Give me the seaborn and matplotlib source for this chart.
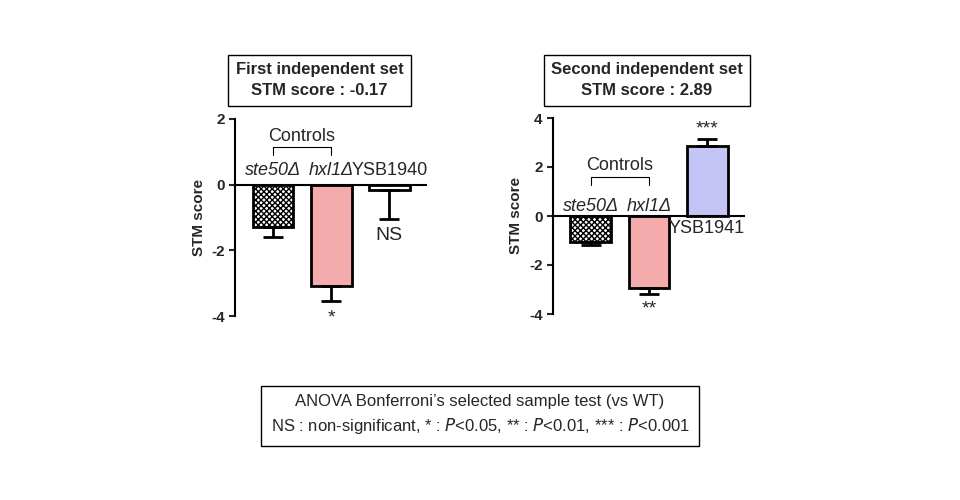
import matplotlib
matplotlib.use("Agg")
import matplotlib.pyplot as plt
import seaborn as sns
import pandas as pd

sns.set_style("white")
plt.rcParams["font.family"] = ["Liberation Sans", "DejaVu Sans"]

strains_1 = ["ste50Δ", "hxl1Δ", "YSB1940"]
scores_1 = [-1.3, -3.1, -0.15]
errors_1 = [0.3, 0.45, 0.9]
stars_1 = ["", "*", "NS"]

strains_2 = ["ste50Δ", "hxl1Δ", "YSB1941"]
scores_2 = [-1.05, -2.95, 2.85]
errors_2 = [0.15, 0.25, 0.3]
stars_2 = ["", "**", "***"]

fig = plt.figure(figsize=(9.6, 5), dpi=100)


def panel(rect, strains, scores, errors, stars, colors, ylim, ticks, title,
          title_pos, label_y, bracket_y, star_y, last_below):
    ax = fig.add_axes(rect)
    df = pd.DataFrame({"strain": strains, "score": scores})
    sns.barplot(data=df, x="strain", y="score", ax=ax, width=0.7,
                edgecolor="black", linewidth=2, palette=colors, hue="strain",
                legend=False)
    ax.patches[0].set_hatch("xxxxxx")
    for i, (s, e) in enumerate(zip(scores, errors)):
        yerr = [[e], [0]] if s < 0 else [[0], [e]]
        ax.errorbar(i, s, yerr=yerr, color="black", capsize=7, capthick=2,
                    elinewidth=2)
    ax.axhline(0, color="black", lw=1.5)
    ax.set_ylim(*ylim)
    ax.set_xlim(-0.65, 2.65)
    ax.set_yticks(ticks)
    ax.set_yticklabels([str(t) for t in ticks], fontweight="bold", fontsize=11)
    ax.tick_params(axis="y", length=4, width=1.5, left=True)
    ax.set_xticks([])
    ax.set_xlabel("")
    ax.set_ylabel("STM score", fontweight="bold", fontsize=11)
    for sp in ["top", "right", "bottom"]:
        ax.spines[sp].set_visible(False)
    ax.spines["left"].set_linewidth(1.5)
    ax.spines["left"].set_color("black")
    for i in range(2):
        ax.text(i, label_y, strains[i], ha="center", va="center", fontsize=13,
                style="italic")
    ax.text(2, last_below, strains[2], ha="center", va="center", fontsize=13)
    b0, b1 = bracket_y
    ax.plot([0, 0, 1, 1], [b0, b1, b1, b0], color="black", lw=0.8)
    ax.text(0.5, b1 + (b1 - b0) * 1.3, "Controls", ha="center", va="center",
            fontsize=13)
    for i, st in enumerate(stars):
        if st:
            ax.text(i, star_y[i], st, ha="center", va="center", fontsize=14)
    fig.text(title_pos[0], title_pos[1], title, ha="center", va="center",
             fontsize=12, fontweight="bold", linespacing=1.5,
             bbox=dict(boxstyle="square,pad=0.45", fc="white", ec="black",
                       lw=1))
    return ax


panel([0.245, 0.368, 0.2, 0.394], strains_1, scores_1, errors_1, stars_1,
      ["white", "#FF9F9F", "white"], (-4, 2), [-4, -2, 0, 2],
      "First independent set\nSTM score : -0.17", (0.333, 0.84), 0.43,
      (0.9, 1.15), [0, -4.05, -1.55], 0.43)
panel([0.576, 0.372, 0.2, 0.392], strains_2, scores_2, errors_2, stars_2,
      ["white", "#FF9F9F", "#BBBBFF"], (-4, 4), [-4, -2, 0, 2, 4],
      "Second independent set\nSTM score : 2.89", (0.674, 0.84), 0.4,
      (1.25, 1.6), [0, -3.8, 3.55], -0.5)

fig.text(0.5, 0.17, "ANOVA Bonferroni’s selected sample test (vs WT)\n"
         "NS : non-significant, * : $\\it{P}$<0.05, ** : $\\it{P}$<0.01, "
         "*** : $\\it{P}$<0.001", ha="center", va="center", fontsize=12,
         linespacing=1.5,
         bbox=dict(boxstyle="square,pad=0.6", fc="white", ec="black", lw=1))

fig.savefig("out.png", dpi=100)
